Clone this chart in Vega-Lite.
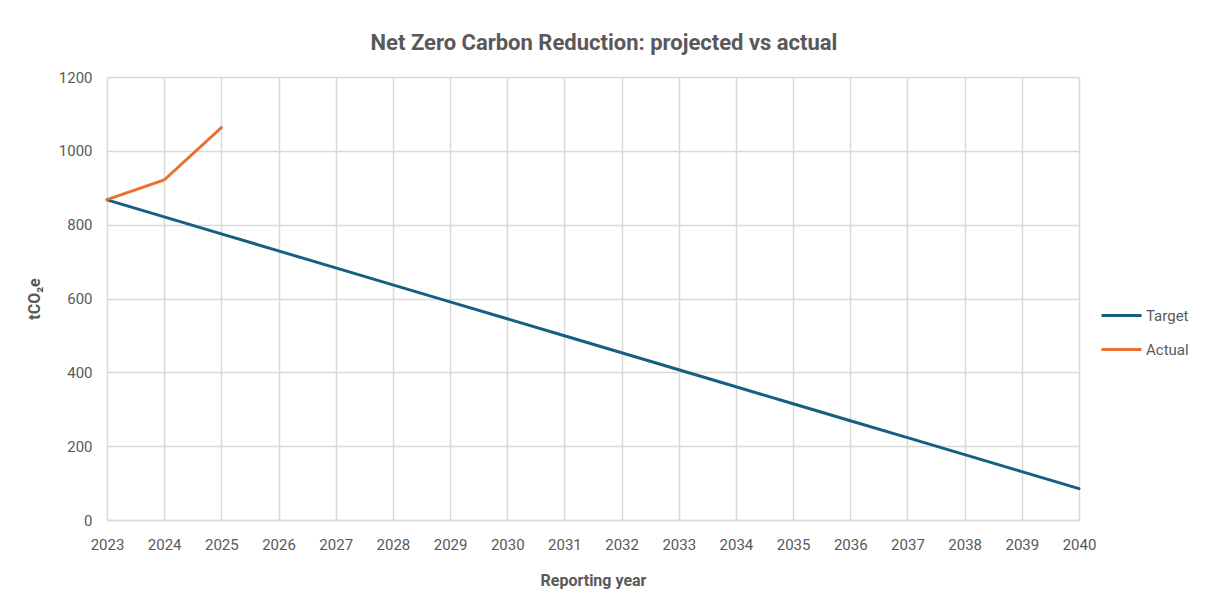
{
  "$schema": "https://vega.github.io/schema/vega-lite/v6.json",
  "autosize": {"type": "none"},
  "width": 972,
  "height": 443,
  "padding": {"left": 107, "top": 77, "right": 126, "bottom": 83},
  "background": "white",
  "title": {
    "text": "Net Zero Carbon Reduction: projected vs actual",
    "fontSize": 22,
    "fontWeight": "bold",
    "color": "#595959",
    "font": "Roboto",
    "anchor": "middle",
    "dx": 11,
    "offset": 15
  },
  "data": {
    "values": [
      {"year": 2023, "series": "Target", "value": 867},
      {"year": 2024, "series": "Target", "value": 821},
      {"year": 2025, "series": "Target", "value": 775},
      {"year": 2026, "series": "Target", "value": 729},
      {"year": 2027, "series": "Target", "value": 683},
      {"year": 2028, "series": "Target", "value": 637},
      {"year": 2029, "series": "Target", "value": 591},
      {"year": 2030, "series": "Target", "value": 545},
      {"year": 2031, "series": "Target", "value": 499},
      {"year": 2032, "series": "Target", "value": 453},
      {"year": 2033, "series": "Target", "value": 407},
      {"year": 2034, "series": "Target", "value": 361},
      {"year": 2035, "series": "Target", "value": 315},
      {"year": 2036, "series": "Target", "value": 269},
      {"year": 2037, "series": "Target", "value": 223},
      {"year": 2038, "series": "Target", "value": 177},
      {"year": 2039, "series": "Target", "value": 131},
      {"year": 2040, "series": "Target", "value": 85},
      {"year": 2023, "series": "Actual", "value": 868},
      {"year": 2024, "series": "Actual", "value": 921},
      {"year": 2025, "series": "Actual", "value": 1063}
    ]
  },
  "mark": {"type": "line", "strokeWidth": 3, "strokeCap": "round"},
  "encoding": {
    "x": {
      "field": "year",
      "type": "quantitative",
      "scale": {"domain": [2023, 2040], "nice": false, "zero": false},
      "axis": {
        "title": "Reporting year",
        "values": [2023, 2024, 2025, 2026, 2027, 2028, 2029, 2030, 2031, 2032, 2033, 2034, 2035, 2036, 2037, 2038, 2039, 2040],
        "format": "d",
        "labelFlush": false,
        "labelOverlap": false,
        "ticks": false,
        "domainColor": "#d9d9d9",
        "domainWidth": 1.5,
        "gridColor": "#d9d9d9",
        "gridWidth": 1.5,
        "labelPadding": 17,
        "titlePadding": 20
      }
    },
    "y": {
      "field": "value",
      "type": "quantitative",
      "scale": {"domain": [0, 1200], "nice": false},
      "axis": {
        "title": "tCO₂e",
        "values": [0, 200, 400, 600, 800, 1000, 1200],
        "format": "d",
        "ticks": false,
        "domain": false,
        "gridColor": "#d9d9d9",
        "gridWidth": 1.5,
        "labelPadding": 15,
        "titlePadding": 16
      }
    },
    "color": {
      "field": "series",
      "type": "nominal",
      "sort": ["Target", "Actual"],
      "scale": {"domain": ["Target", "Actual"], "range": ["#156082", "#e97132"]},
      "legend": {
        "title": null,
        "orient": "none",
        "legendX": 993,
        "legendY": 217,
        "symbolType": "stroke",
        "symbolSize": 1600,
        "symbolStrokeWidth": 3,
        "rowPadding": 4,
        "labelOffset": 3
      }
    }
  },
  "config": {
    "font": "Roboto",
    "axis": {
      "labelFont": "Roboto",
      "labelFontSize": 15,
      "labelColor": "#595959",
      "titleFont": "Roboto",
      "titleFontSize": 16,
      "titleFontWeight": "bold",
      "titleColor": "#595959"
    },
    "legend": {
      "labelFont": "Roboto",
      "labelFontSize": 15,
      "labelColor": "#595959"
    },
    "view": {"stroke": null}
  }
}
